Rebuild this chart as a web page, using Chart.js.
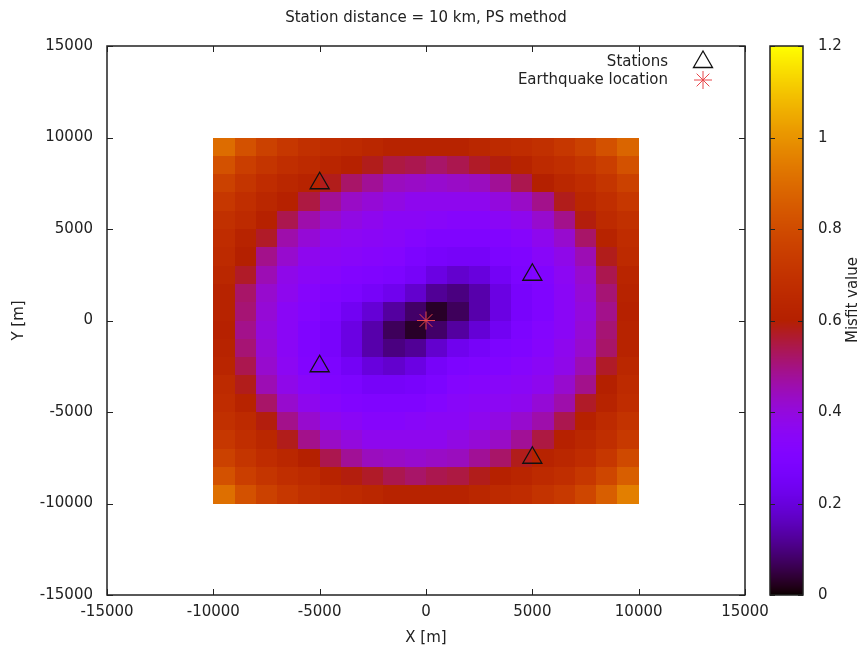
<!DOCTYPE html>
<html>
<head>
<meta charset="utf-8">
<script src="https://cdn.jsdelivr.net/npm/chart.js@4.4.1/dist/chart.umd.min.js"></script>
<style>
  html, body { margin: 0; padding: 0; background: #fff; }
</style>
</head>
<body>
<canvas id="myChart" width="866" height="647"></canvas>
<script>
const chartTitle = "Station distance = 10 km, PS method";

// cell centres of the misfit grid (m)
const gridX = [-9500, -8500, -7500, -6500, -5500, -4500, -3500, -2500, -1500, -500,
  500, 1500, 2500, 3500, 4500, 5500, 6500, 7500, 8500, 9500];
const gridY = [9500, 8500, 7500, 6500, 5500, 4500, 3500, 2500, 1500, 500,
  -500, -1500, -2500, -3500, -4500, -5500, -6500, -7500, -8500, -9500];
const cellSize = 1000;

// misfit values, one row per gridY
const misfit = [
  [0.90, 0.82, 0.76, 0.72, 0.69, 0.67, 0.66, 0.64, 0.62, 0.62, 0.62, 0.62, 0.64, 0.66, 0.67, 0.69, 0.72, 0.76, 0.82, 0.88],
  [0.82, 0.75, 0.71, 0.68, 0.66, 0.63, 0.61, 0.58, 0.55, 0.54, 0.52, 0.54, 0.57, 0.59, 0.62, 0.66, 0.68, 0.71, 0.75, 0.82],
  [0.76, 0.71, 0.67, 0.64, 0.62, 0.58, 0.52, 0.48, 0.44, 0.43, 0.42, 0.43, 0.44, 0.48, 0.54, 0.60, 0.64, 0.67, 0.71, 0.76],
  [0.72, 0.68, 0.64, 0.61, 0.55, 0.48, 0.43, 0.41, 0.39, 0.37, 0.37, 0.37, 0.37, 0.40, 0.43, 0.49, 0.58, 0.64, 0.68, 0.72],
  [0.69, 0.66, 0.61, 0.54, 0.46, 0.42, 0.39, 0.37, 0.35, 0.35, 0.34, 0.33, 0.33, 0.35, 0.37, 0.42, 0.49, 0.59, 0.66, 0.69],
  [0.67, 0.62, 0.57, 0.46, 0.41, 0.37, 0.36, 0.35, 0.34, 0.32, 0.30, 0.30, 0.30, 0.31, 0.33, 0.37, 0.42, 0.52, 0.62, 0.67],
  [0.66, 0.60, 0.49, 0.42, 0.37, 0.35, 0.34, 0.33, 0.32, 0.29, 0.27, 0.26, 0.26, 0.29, 0.30, 0.34, 0.38, 0.45, 0.58, 0.66],
  [0.64, 0.57, 0.45, 0.38, 0.35, 0.33, 0.31, 0.30, 0.29, 0.26, 0.21, 0.18, 0.20, 0.25, 0.29, 0.31, 0.36, 0.42, 0.54, 0.63],
  [0.62, 0.52, 0.42, 0.37, 0.33, 0.30, 0.29, 0.26, 0.23, 0.18, 0.12, 0.10, 0.14, 0.21, 0.27, 0.30, 0.35, 0.41, 0.51, 0.62],
  [0.62, 0.51, 0.41, 0.35, 0.32, 0.29, 0.24, 0.19, 0.13, 0.08, 0.03, 0.07, 0.14, 0.21, 0.27, 0.30, 0.35, 0.40, 0.49, 0.61],
  [0.61, 0.49, 0.40, 0.35, 0.30, 0.27, 0.21, 0.14, 0.07, 0.03, 0.08, 0.13, 0.19, 0.24, 0.29, 0.32, 0.35, 0.41, 0.51, 0.62],
  [0.62, 0.51, 0.41, 0.35, 0.30, 0.27, 0.21, 0.14, 0.10, 0.12, 0.18, 0.23, 0.26, 0.29, 0.30, 0.33, 0.37, 0.42, 0.52, 0.62],
  [0.63, 0.54, 0.42, 0.36, 0.31, 0.29, 0.25, 0.20, 0.18, 0.21, 0.26, 0.29, 0.30, 0.31, 0.33, 0.35, 0.38, 0.45, 0.57, 0.64],
  [0.66, 0.58, 0.45, 0.38, 0.34, 0.30, 0.29, 0.26, 0.26, 0.27, 0.29, 0.32, 0.33, 0.34, 0.35, 0.37, 0.42, 0.49, 0.60, 0.66],
  [0.67, 0.62, 0.52, 0.42, 0.37, 0.33, 0.31, 0.30, 0.30, 0.30, 0.32, 0.34, 0.35, 0.36, 0.37, 0.41, 0.46, 0.57, 0.62, 0.67],
  [0.69, 0.66, 0.59, 0.49, 0.42, 0.37, 0.35, 0.33, 0.33, 0.34, 0.35, 0.35, 0.37, 0.39, 0.42, 0.46, 0.54, 0.61, 0.66, 0.70],
  [0.72, 0.68, 0.64, 0.58, 0.49, 0.43, 0.40, 0.37, 0.37, 0.37, 0.37, 0.39, 0.41, 0.43, 0.48, 0.55, 0.61, 0.64, 0.68, 0.73],
  [0.76, 0.71, 0.67, 0.64, 0.60, 0.54, 0.48, 0.44, 0.43, 0.42, 0.43, 0.44, 0.48, 0.52, 0.58, 0.62, 0.64, 0.67, 0.72, 0.79],
  [0.82, 0.75, 0.71, 0.68, 0.66, 0.62, 0.59, 0.57, 0.54, 0.52, 0.54, 0.55, 0.58, 0.61, 0.63, 0.66, 0.68, 0.72, 0.78, 0.86],
  [0.91, 0.82, 0.76, 0.72, 0.69, 0.67, 0.66, 0.64, 0.62, 0.62, 0.62, 0.62, 0.64, 0.66, 0.67, 0.70, 0.73, 0.78, 0.86, 0.95]
];

const stationX = [-5000, 5000, -5000, 5000];
const stationY = [7500, 2500, -2500, -7500];
const quakeX = [0];
const quakeY = [0];

const axisTicks = [-15000, -10000, -5000, 0, 5000, 10000, 15000];
const cbTicks = [0, 0.2, 0.4, 0.6, 0.8, 1, 1.2];
const cbMax = 1.2;

const FONT = "DejaVu Sans";
const TEXT = "#222";

// gnuplot default palette (rgbformulae 7,5,15)
function palette(v) {
  const t = Math.min(Math.max(v / cbMax, 0), 1);
  const r = Math.sqrt(t);
  const g = t * t * t;
  const b = Math.max(Math.sin(2 * Math.PI * t), 0);
  return "rgb(" + Math.round(r * 255) + "," + Math.round(g * 255) + "," + Math.round(b * 255) + ")";
}

const heatmap = {
  id: "heatmap",
  beforeDatasetsDraw(chart) {
    const { ctx, scales: { x, y } } = chart;
    ctx.save();
    gridY.forEach((gy, j) => {
      gridX.forEach((gx, i) => {
        const x0 = Math.round(x.getPixelForValue(gx - cellSize / 2));
        const x1 = Math.round(x.getPixelForValue(gx + cellSize / 2));
        const y0 = Math.round(y.getPixelForValue(gy + cellSize / 2));
        const y1 = Math.round(y.getPixelForValue(gy - cellSize / 2));
        ctx.fillStyle = palette(misfit[j][i]);
        ctx.fillRect(x0, y0, x1 - x0, y1 - y0);
      });
    });
    ctx.restore();
  }
};

const frame = {
  id: "frame",
  afterDatasetsDraw(chart) {
    const { ctx, chartArea: a, scales: { x, y } } = chart;
    ctx.save();
    ctx.strokeStyle = "#222";
    ctx.lineWidth = 1.5;
    ctx.strokeRect(a.left, a.top, a.right - a.left, a.bottom - a.top);
    ctx.lineWidth = 1;
    ctx.beginPath();
    axisTicks.forEach(v => {
      const px = Math.round(x.getPixelForValue(v)) + 0.5;
      ctx.moveTo(px, a.bottom); ctx.lineTo(px, a.bottom - 6);
      ctx.moveTo(px, a.top); ctx.lineTo(px, a.top + 6);
      const py = Math.round(y.getPixelForValue(v)) + 0.5;
      ctx.moveTo(a.left, py); ctx.lineTo(a.left + 6, py);
      ctx.moveTo(a.right, py); ctx.lineTo(a.right - 6, py);
    });
    ctx.stroke();

    // key, top right inside the plot
    ctx.font = "15px " + FONT;
    ctx.fillStyle = TEXT;
    ctx.textAlign = "right";
    ctx.textBaseline = "middle";
    ctx.fillText("Stations", 668, 62);
    ctx.fillText("Earthquake location", 668, 80);
    ctx.fillStyle = "rgba(0,0,0,0)";
    ctx.strokeStyle = "#111";
    ctx.lineWidth = 1.3;
    Chart.helpers.drawPoint(ctx, { pointStyle: "triangle", radius: 11, borderWidth: 1.3, rotation: 0 }, 703, 62);
    ctx.strokeStyle = "#e8474a";
    ctx.lineWidth = 1;
    Chart.helpers.drawPoint(ctx, { pointStyle: "star", radius: 9, borderWidth: 1, rotation: 0 }, 703, 80);
    ctx.restore();
  },
  afterDraw(chart) {
    const { ctx, chartArea: a } = chart;
    ctx.save();
    ctx.fillStyle = TEXT;
    ctx.font = "15px " + FONT;
    ctx.textAlign = "center";
    ctx.textBaseline = "middle";
    ctx.fillText(chartTitle, (a.left + a.right) / 2, 18);
    ctx.fillText("X [m]", (a.left + a.right) / 2, 638);
    ctx.save();
    ctx.translate(19, (a.top + a.bottom) / 2);
    ctx.rotate(-Math.PI / 2);
    ctx.fillText("Y [m]", 0, 0);
    ctx.restore();

    // colour box
    const cl = 770, cr = 803, ct = a.top, cb = a.bottom;
    for (let py = ct; py < cb; py++) {
      ctx.fillStyle = palette((cb - py - 0.5) / (cb - ct) * cbMax);
      ctx.fillRect(cl, py, cr - cl, 1);
    }
    ctx.strokeStyle = "#222";
    ctx.lineWidth = 1.5;
    ctx.strokeRect(cl, ct, cr - cl, cb - ct);
    ctx.lineWidth = 1;
    ctx.fillStyle = TEXT;
    ctx.textAlign = "left";
    ctx.beginPath();
    cbTicks.forEach(v => {
      const py = Math.round(cb - v / cbMax * (cb - ct)) + 0.5;
      ctx.moveTo(cl, py); ctx.lineTo(cl + 5, py);
      ctx.moveTo(cr, py); ctx.lineTo(cr - 5, py);
      ctx.fillText(String(v), 818, py);
    });
    ctx.stroke();
    ctx.save();
    ctx.translate(853, 300);
    ctx.rotate(-Math.PI / 2);
    ctx.textAlign = "center";
    ctx.fillText("Misfit value", 0, 0);
    ctx.restore();
    ctx.restore();
  }
};

const tickFont = { family: FONT, size: 15 };

new Chart(document.getElementById("myChart"), {
  type: "scatter",
  data: {
    datasets: [
      {
        label: "Stations",
        data: stationX.map((v, i) => ({ x: v, y: stationY[i] })),
        pointStyle: "triangle",
        pointRadius: 11,
        borderColor: "#111",
        borderWidth: 1.3,
        backgroundColor: "rgba(0,0,0,0)"
      },
      {
        label: "Earthquake location",
        data: quakeX.map((v, i) => ({ x: v, y: quakeY[i] })),
        pointStyle: "star",
        pointRadius: 9,
        borderColor: "#e8474a",
        borderWidth: 1,
        backgroundColor: "#e8474a"
      }
    ]
  },
  options: {
    responsive: false,
    animation: false,
    devicePixelRatio: 1,
    layout: { padding: { top: 46, right: 121, left: 0, bottom: 0 } },
    plugins: {
      legend: { display: false },
      tooltip: { enabled: false }
    },
    scales: {
      x: {
        type: "linear",
        min: -15000,
        max: 15000,
        afterBuildTicks: s => { s.ticks = axisTicks.map(v => ({ value: v })); },
        afterFit: s => { s.height = 52; },
        ticks: { font: tickFont, color: TEXT, padding: 8, maxRotation: 0, callback: v => String(v) },
        grid: { display: false, drawTicks: false },
        border: { display: false }
      },
      y: {
        type: "linear",
        min: -15000,
        max: 15000,
        afterBuildTicks: s => { s.ticks = axisTicks.map(v => ({ value: v })); },
        afterFit: s => { s.width = 107; },
        ticks: { font: tickFont, color: TEXT, padding: 14, callback: v => String(v) },
        grid: { display: false, drawTicks: false },
        border: { display: false }
      }
    }
  },
  plugins: [heatmap, frame]
});
</script>
</body>
</html>
